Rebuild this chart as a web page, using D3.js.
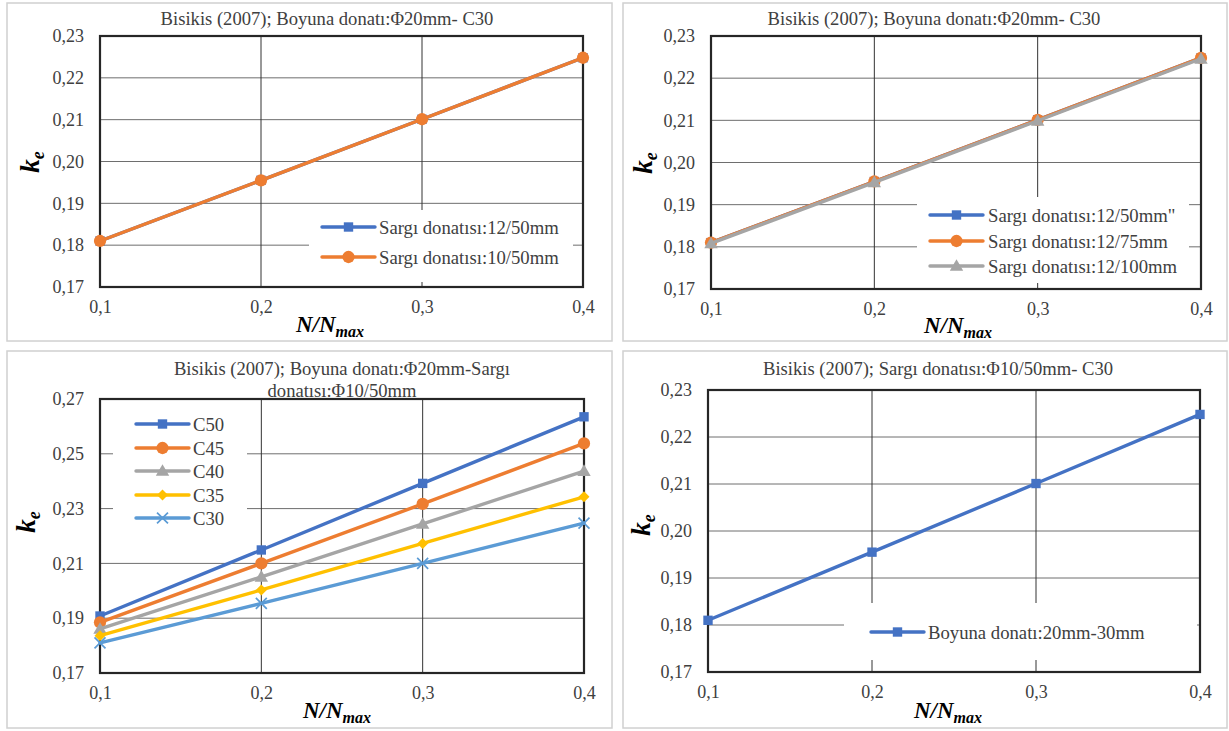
<!DOCTYPE html>
<html><head><meta charset="utf-8">
<script src="https://cdn.jsdelivr.net/npm/d3@7"></script>
<style>
html,body{margin:0;padding:0;background:#fff;}
svg{display:block;}
</style></head>
<body>
<svg id="c" width="1229" height="731"></svg>
<script>
// ---------- data ----------
const xValues = [0.1, 0.2, 0.3, 0.4];
const xTickLabels = ["0,1", "0,2", "0,3", "0,4"];
const yTicksTop = [0.17, 0.18, 0.19, 0.20, 0.21, 0.22, 0.23];
const yTicksBL = [0.17, 0.19, 0.21, 0.23, 0.25, 0.27];

// Panel 1 (top-left)
const p1Names = ["Sargı donatısı:12/50mm", "Sargı donatısı:10/50mm"];
const p1Sargi12_50 = [0.181, 0.1955, 0.2101, 0.2248];
const p1Sargi10_50 = [0.181, 0.1955, 0.2101, 0.2248];

// Panel 2 (top-right)
const p2Names = ["Sargı donatısı:12/50mm\"", "Sargı donatısı:12/75mm", "Sargı donatısı:12/100mm"];
const p2Sargi12_50 = [0.181, 0.1955, 0.2101, 0.2248];
const p2Sargi12_75 = [0.181, 0.1955, 0.2101, 0.2248];
const p2Sargi12_100 = [0.1808, 0.1953, 0.2099, 0.2246];

// Panel 3 (bottom-left)
const p3Names = ["C50", "C45", "C40", "C35", "C30"];
const p3C50 = [0.1908, 0.2149, 0.2392, 0.2635];
const p3C45 = [0.1885, 0.2100, 0.2317, 0.2538];
const p3C40 = [0.1861, 0.2051, 0.2244, 0.2437];
const p3C35 = [0.1836, 0.2003, 0.2173, 0.2343];
const p3C30 = [0.1810, 0.1954, 0.2100, 0.2247];

// Panel 4 (bottom-right)
const p4Names = ["Boyuna donatı:20mm-30mm"];
const p4Boyuna = [0.181, 0.1955, 0.2101, 0.2248];

const titles = [
  ["Bisikis (2007); Boyuna donatı:Φ20mm- C30"],
  ["Bisikis (2007); Boyuna donatı:Φ20mm- C30"],
  ["Bisikis (2007); Boyuna donatı:Φ20mm-Sargı", "donatısı:Φ10/50mm"],
  ["Bisikis (2007); Sargı donatısı:Φ10/50mm- C30"]
];

// ---------- styles ----------
const SERIF = "Liberation Serif";
const BLUE = "#4472C4", ORANGE = "#ED7D31", GRAY = "#A5A5A5", YELLOW = "#FFC000", LBLUE = "#5B9BD5";
const TXT = "#404040";

const panels = [
  { frame: [7, 3, 612, 341], plot: [100, 36, 583, 287], yDomain: [0.17, 0.23], yTicks: yTicksTop,
    titleX: 327, titleY: [18],
    series: [
      { name: p1Names[0], values: p1Sargi12_50, color: BLUE, marker: "square" },
      { name: p1Names[1], values: p1Sargi10_50, color: ORANGE, marker: "circle" }
    ],
    legend: { box: [309, 210, 573, 282], ys: [227, 257], x0: 322, x1: 375, tx: 379 },
    kLabel: [34, 162], nLabel: [330, 332] },
  { frame: [623, 3, 1227, 341], plot: [711, 36, 1201, 289], yDomain: [0.17, 0.23], yTicks: yTicksTop,
    titleX: 934, titleY: [18],
    series: [
      { name: p2Names[0], values: p2Sargi12_50, color: BLUE, marker: "square" },
      { name: p2Names[1], values: p2Sargi12_75, color: ORANGE, marker: "circle" },
      { name: p2Names[2], values: p2Sargi12_100, color: GRAY, marker: "triangle" }
    ],
    legend: { box: [917, 197, 1189, 283], ys: [215, 241, 266], x0: 930, x1: 983, tx: 988 },
    kLabel: [647, 163], nLabel: [958, 333] },
  { frame: [7, 351, 612, 728], plot: [100, 399, 584, 673], yDomain: [0.17, 0.27], yTicks: yTicksBL,
    titleX: 342, titleY: [368, 390],
    series: [
      { name: p3Names[0], values: p3C50, color: BLUE, marker: "square" },
      { name: p3Names[1], values: p3C45, color: ORANGE, marker: "circle" },
      { name: p3Names[2], values: p3C40, color: GRAY, marker: "triangle" },
      { name: p3Names[3], values: p3C35, color: YELLOW, marker: "diamond" },
      { name: p3Names[4], values: p3C30, color: LBLUE, marker: "x" }
    ],
    legend: { box: [113, 407, 247, 533], ys: [424, 448, 471, 495, 518], x0: 136, x1: 189, tx: 193 },
    kLabel: [30, 522], nLabel: [337, 718] },
  { frame: [623, 351, 1227, 728], plot: [708, 390, 1200, 672], yDomain: [0.17, 0.23], yTicks: yTicksTop,
    titleX: 938, titleY: [368],
    series: [
      { name: p4Names[0], values: p4Boyuna, color: BLUE, marker: "square" }
    ],
    legend: { box: [844, 603, 1197, 660], ys: [632], x0: 871, x1: 924, tx: 928 },
    kLabel: [645, 525], nLabel: [948, 718] }
];

const fmt = v => d3.format(".2f")(v).replace(".", ",");
const svg = d3.select("#c");

function txt(sel, size) {
  return sel.style("font-family", SERIF).style("font-size", (size || 18) + "px").attr("fill", TXT);
}

function drawMarker(g, type, color, x, y) {
  if (type === "square") {
    g.append("path").attr("d", d3.symbol(d3.symbolSquare, 88)()).attr("transform", `translate(${x},${y})`).attr("fill", color);
  } else if (type === "circle") {
    g.append("path").attr("d", d3.symbol(d3.symbolCircle, 118)()).attr("transform", `translate(${x},${y})`).attr("fill", color);
  } else if (type === "triangle") {
    g.append("path").attr("d", d3.symbol(d3.symbolTriangle, 78)()).attr("transform", `translate(${x},${y + 1})`).attr("fill", color);
  } else if (type === "diamond") {
    g.append("path").attr("d", d3.symbol(d3.symbolSquare, 60)()).attr("transform", `translate(${x},${y}) rotate(45)`).attr("fill", color);
  } else if (type === "x") {
    const t = d3.symbolTimes || d3.symbolX;
    g.append("path").attr("d", d3.symbol(t, 80)()).attr("transform", `translate(${x},${y})`)
      .attr("fill", "none").attr("stroke", color).attr("stroke-width", 1.7);
  }
}

panels.forEach((p, pi) => {
  const [fx0, fy0, fx1, fy1] = p.frame;
  const [px0, py0, px1, py1] = p.plot;
  const g = svg.append("g");
  g.append("rect").attr("x", fx0).attr("y", fy0).attr("width", fx1 - fx0).attr("height", fy1 - fy0)
    .attr("fill", "#fff").attr("stroke", "#D0D0D0").attr("stroke-width", 1.5);

  const x = d3.scaleLinear().domain([0.1, 0.4]).range([px0, px1]);
  const y = d3.scaleLinear().domain(p.yDomain).range([py1, py0]);

  // gridlines
  const grid = g.append("g").attr("stroke", "#6e6e6e").attr("stroke-width", 1);
  p.yTicks.forEach(t => grid.append("line").attr("x1", px0).attr("x2", px1).attr("y1", y(t)).attr("y2", y(t)));
  xValues.forEach(t => grid.append("line").attr("x1", x(t)).attr("x2", x(t)).attr("y1", py0).attr("y2", py1).attr("stroke", "#333"));

  // y axis labels
  const yAxis = d3.axisLeft(y).tickValues(p.yTicks).tickFormat(fmt).tickSize(0).tickPadding(16);
  const ya = g.append("g").attr("transform", `translate(${px0},0)`).call(yAxis);
  ya.attr("font-family", null).attr("font-size", null);
  ya.select(".domain").remove();
  txt(ya.selectAll("text"), 18);

  // x axis labels
  const xAxis = d3.axisBottom(x).tickValues(xValues).tickFormat((d, i) => xTickLabels[i]).tickSize(0).tickPadding(13);
  const xa = g.append("g").attr("transform", `translate(0,${py1})`).call(xAxis);
  xa.attr("font-family", null).attr("font-size", null);
  xa.select(".domain").remove();
  txt(xa.selectAll("text"), 18);

  // legend background (covers gridlines)
  const L = p.legend;
  g.append("rect").attr("x", L.box[0]).attr("y", L.box[1]).attr("width", L.box[2] - L.box[0]).attr("height", L.box[3] - L.box[1]).attr("fill", "#fff");

  // plot border
  g.append("rect").attr("x", px0).attr("y", py0).attr("width", px1 - px0).attr("height", py1 - py0)
    .attr("fill", "none").attr("stroke", "#262626").attr("stroke-width", 2.2);

  // series
  const line = d3.line().x((d, i) => x(xValues[i])).y(d => y(d));
  p.series.forEach(s => {
    const sg = g.append("g");
    sg.append("path").attr("d", line(s.values)).attr("fill", "none").attr("stroke", s.color)
      .attr("stroke-width", 3.4).attr("stroke-linejoin", "round").attr("stroke-linecap", "round");
    s.values.forEach((v, i) => drawMarker(sg, s.marker, s.color, x(xValues[i]), y(v)));
  });

  // legend items
  p.series.forEach((s, i) => {
    const ly = L.ys[i];
    const lg = g.append("g");
    lg.append("line").attr("x1", L.x0).attr("x2", L.x1).attr("y1", ly).attr("y2", ly)
      .attr("stroke", s.color).attr("stroke-width", 3.4).attr("stroke-linecap", "round");
    drawMarker(lg, s.marker, s.color, (L.x0 + L.x1) / 2, ly);
    txt(lg.append("text").attr("x", L.tx).attr("y", ly).attr("dy", "0.35em"), 18.7).text(s.name);
  });

  // title
  titles[pi].forEach((t, i) => {
    txt(g.append("text").attr("x", p.titleX).attr("y", p.titleY[i]).attr("dy", "0.35em").attr("text-anchor", "middle"), 18.6).text(t);
  });

  // k_e label
  const kt = g.append("text").attr("transform", `translate(${p.kLabel[0]},${p.kLabel[1]}) rotate(-90)`)
    .attr("text-anchor", "middle").attr("dy", "0.3em")
    .style("font-weight", "bold").style("font-style", "italic").style("font-family", SERIF).attr("fill", "#000");
  kt.append("tspan").style("font-size", "27px").text("k");
  kt.append("tspan").style("font-size", "18px").attr("dy", 5).text("e");

  // N/N_max label
  const nt = g.append("text").attr("x", p.nLabel[0]).attr("y", p.nLabel[1]).attr("text-anchor", "middle")
    .style("font-weight", "bold").style("font-style", "italic").style("font-family", SERIF).attr("fill", "#000");
  nt.append("tspan").style("font-size", "23px").text("N/N");
  nt.append("tspan").style("font-size", "16px").attr("dy", 5).text("max");
});
</script>
</body></html>
